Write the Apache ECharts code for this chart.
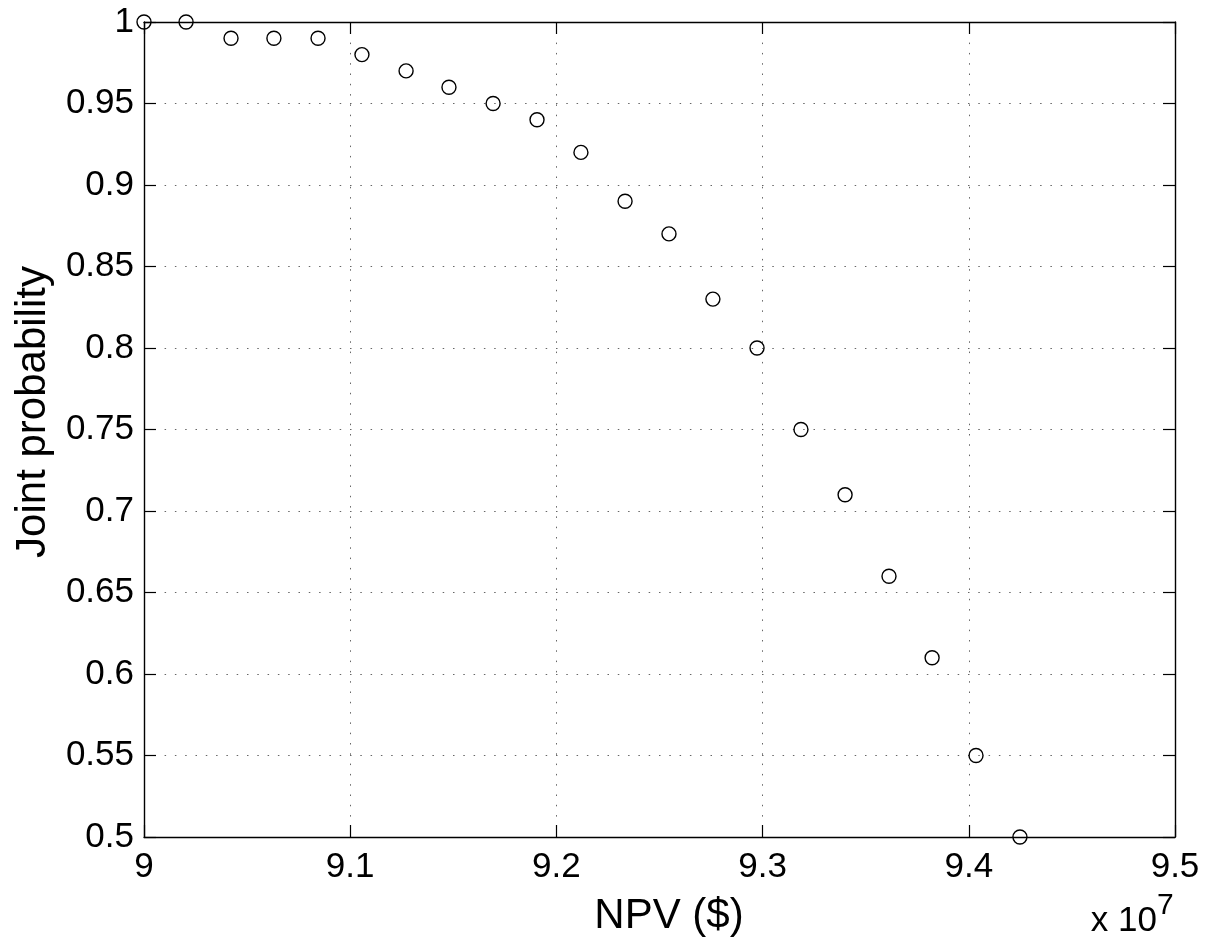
<!DOCTYPE html>
<html>
<head>
<meta charset="utf-8">
<script src="https://cdn.jsdelivr.net/npm/echarts@6/dist/echarts.min.js"></script>
<style>
html,body{margin:0;padding:0;background:#fff;}
#chart{width:1221px;height:948px;}
</style>
</head>
<body>
<div id="chart"></div>
<script>
// NPV values in dollars
var npv = [90000000, 90204000, 90422000, 90630000, 90844000, 91057000, 91271000, 91479000, 91693000, 91906000, 92119000, 92333000, 92546000, 92759000, 92973000, 93186000, 93400000, 93613000, 93822000, 94035000, 94248000];
var jointProb = [1.00, 1.00, 0.99, 0.99, 0.99, 0.98, 0.97, 0.96, 0.95, 0.94, 0.92, 0.89, 0.87, 0.83, 0.80, 0.75, 0.71, 0.66, 0.61, 0.55, 0.50];
var xTitle = 'NPV ($)';
var yTitle = 'Joint probability';
var xScaleBase = 'x 10';
var xScaleExp = '7';

var FONT = '"Liberation Sans", Arial, Helvetica, sans-serif';
var chart = echarts.init(document.getElementById('chart'), null, {renderer: 'canvas'});

var pts = npv.map(function (v, i) { return [v, jointProb[i]]; });

var tickStyle = {show: true, inside: true, length: 12, lineStyle: {color: '#000', width: 1.2}};
var lineStyle = {show: true, onZero: false, lineStyle: {color: '#000', width: 1.4}};
var gridLine = {show: true, lineStyle: {color: '#666', width: 1, type: [1.5, 8.8]}};

var option = {
  backgroundColor: '#fff',
  animation: false,
  grid: {left: 144, right: 46, top: 22, bottom: 111, containLabel: false},
  xAxis: [
    {type: 'value', position: 'bottom', min: 90000000, max: 95000000, interval: 1000000,
     axisLine: lineStyle, axisTick: tickStyle, splitLine: gridLine,
     axisLabel: {show: true, margin: 13, color: '#000', fontSize: 35, fontFamily: FONT,
       formatter: function (v) { return String(+(v / 1e7).toFixed(2)); }}},
    {type: 'value', position: 'top', min: 90000000, max: 95000000, interval: 1000000,
     axisLine: lineStyle, axisTick: tickStyle, splitLine: {show: false}, axisLabel: {show: false}}
  ],
  yAxis: [
    {type: 'value', position: 'left', min: 0.5, max: 1, interval: 0.05,
     axisLine: lineStyle, axisTick: tickStyle, splitLine: gridLine,
     axisLabel: {show: true, margin: 10, color: '#000', fontSize: 35, fontFamily: FONT,
       formatter: function (v) { return String(+v.toFixed(2)); }}},
    {type: 'value', position: 'right', min: 0.5, max: 1, interval: 0.05,
     axisLine: lineStyle, axisTick: tickStyle, splitLine: {show: false}, axisLabel: {show: false}}
  ],
  series: [{
    type: 'scatter',
    xAxisIndex: 0, yAxisIndex: 0,
    data: pts,
    symbol: 'circle',
    symbolSize: 14,
    clip: false,
    z: 10,
    itemStyle: {color: 'rgba(255,255,255,0)', borderColor: '#000', borderWidth: 1.4, opacity: 1},
    emphasis: {disabled: true}
  }],
  graphic: [
    {type: 'text', x: 669, y: 916,
     style: {text: xTitle, fill: '#000', font: '42px ' + FONT, align: 'center', verticalAlign: 'middle'}},
    {type: 'text', x: 33, y: 412, rotation: Math.PI / 2,
     style: {text: yTitle, fill: '#000', font: '42px ' + FONT, align: 'center', verticalAlign: 'middle'}},
    {type: 'text', x: 1157, y: 921,
     style: {text: xScaleBase, fill: '#000', font: '35px ' + FONT, align: 'right', verticalAlign: 'middle'}},
    {type: 'text', x: 1157, y: 906,
     style: {text: xScaleExp, fill: '#000', font: '30px ' + FONT, align: 'left', verticalAlign: 'middle'}}
  ]
};
chart.setOption(option);
</script>
</body>
</html>
